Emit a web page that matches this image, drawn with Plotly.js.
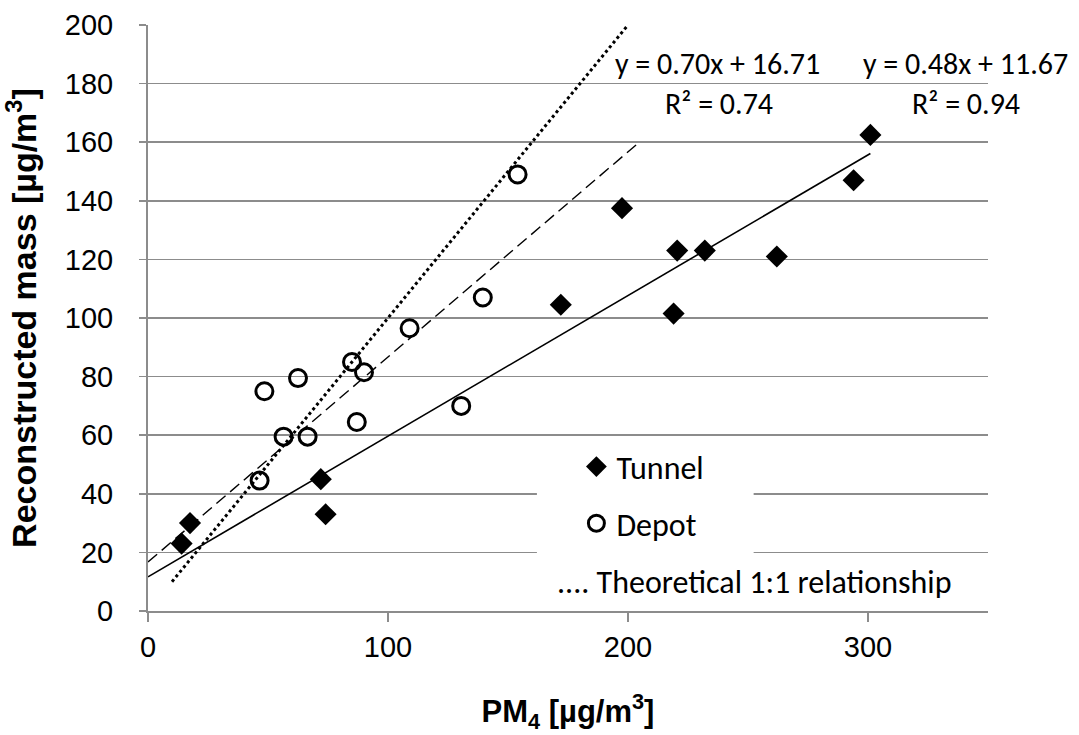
<!DOCTYPE html>
<html>
<head>
<meta charset="utf-8">
<script src="https://cdn.plot.ly/plotly-3.0.1.min.js"></script>
<style>html,body{margin:0;padding:0;background:#fff}#chart{width:1079px;height:735px}</style>
</head>
<body>
<div id="chart"></div>
<script>
// ---- data ----
const tunnelX = [14, 17.5, 72, 74, 172, 197.5, 219, 220.5, 232, 262, 294, 301];
const tunnelY = [23, 30, 45, 33, 104.5, 137.5, 101.5, 123, 123, 121, 147, 162.5];
const depotX = [46.5, 48.5, 56.5, 62.5, 66.5, 85, 87, 90, 109, 130.5, 139.5, 154];
const depotY = [44.5, 75, 59.5, 79.5, 59.5, 85, 64.5, 81.5, 96.5, 70, 107, 149];
// fitted trend lines as printed on the chart
const tunnelFit = [0.48, 11.67];     // slope, intercept
const depotFit = [0.70, 16.71];
const tunnelFitRange = [0, 301];
const depotFitRange = [0, 204];
const oneToOneRange = [10, 200];
const eqTunnel = 'y = 0.48x + 11.67';
const r2Tunnel = 'R² = 0.94';
const eqDepot = 'y = 0.70x + 16.71';
const r2Depot = 'R² = 0.74';
const xTicks = [0, 100, 200, 300];
const yTicks = [0, 20, 40, 60, 80, 100, 120, 140, 160, 180, 200];

const lineY = (f, xs) => xs.map(x => f[0] * x + f[1]);
const calib = 'Carlito, Lato, sans-serif';
const arial = 'Liberation Sans, Arial, sans-serif';
const gray = '#8c8c8c';

const traces = [
  {x: tunnelFitRange, y: lineY(tunnelFit, tunnelFitRange), mode: 'lines', showlegend: false, hoverinfo: 'skip',
   line: {color: '#000', width: 1.6}},
  {x: depotFitRange, y: lineY(depotFit, depotFitRange), mode: 'lines', showlegend: false, hoverinfo: 'skip',
   line: {color: '#000', width: 1.4, dash: '12px,6px'}},
  {x: oneToOneRange, y: oneToOneRange, mode: 'lines', showlegend: false, hoverinfo: 'skip',
   line: {color: '#000', width: 3, dash: 'dot'}},
  {x: tunnelX, y: tunnelY, mode: 'markers', name: 'Tunnel', legendgroup: 'a',
   marker: {symbol: 'diamond', size: 17, color: '#000', line: {width: 0}}},
  {x: depotX, y: depotY, mode: 'markers', name: 'Depot', legendgroup: 'b',
   marker: {symbol: 'circle-open', size: 17, color: '#000', line: {width: 3, color: '#000'}}}
];

const layout = {
  width: 1079, height: 735,
  margin: {l: 148, r: 91, t: 25, b: 124},
  paper_bgcolor: '#fff', plot_bgcolor: '#fff',
  showlegend: true,
  legend: {x: 0.51, y: 0.293, xanchor: 'left', yanchor: 'top', bgcolor: 'rgba(0,0,0,0)',
    font: {family: calib, size: 32, color: '#000'}, tracegroupgap: 12, traceorder: 'grouped',
    itemsizing: 'trace'},
  xaxis: {range: [0, 350], tickvals: xTicks, showgrid: false, zeroline: false,
    showline: true, linecolor: gray, linewidth: 2, ticks: 'outside', ticklen: 9, tickwidth: 1.5, tickcolor: gray,
    tickfont: {family: arial, size: 29, color: '#000'}, ticklabelstandoff: 0,
    title: {text: '<b>PM<sub>4</sub> [µg/m<sup>3</sup>]</b>', font: {family: arial, size: 31, color: '#000'}, standoff: 39}},
  yaxis: {range: [0, 200], tickvals: yTicks, showgrid: true, gridcolor: gray, gridwidth: 1.6, zeroline: false,
    showline: true, linecolor: gray, linewidth: 2, ticks: 'outside', ticklen: 7, tickwidth: 1.5, tickcolor: gray,
    tickfont: {family: arial, size: 29, color: '#000'}, ticklabelstandoff: 20,
    title: {text: '<b>Reconstructed mass [µg/m<sup>3</sup>]</b>', font: {family: arial, size: 34, color: '#000'}, standoff: 18}},
  shapes: [
    {type: 'rect', xref: 'paper', yref: 'paper', x0: 0.463, x1: 0.721, y0: 0.087, y1: 0.283,
     fillcolor: '#fff', line: {width: 0}, layer: 'above'}
  ],
  annotations: [
    {xref: 'x', yref: 'y', x: 237.3, y: 186.7, text: eqDepot, showarrow: false, font: {family: calib, size: 30, color: '#000'}},
    {xref: 'x', yref: 'y', x: 238, y: 173.3, text: r2Depot, showarrow: false, font: {family: calib, size: 30, color: '#000'}},
    {xref: 'x', yref: 'y', x: 340.8, y: 186.7, text: eqTunnel, showarrow: false, font: {family: calib, size: 30, color: '#000'}},
    {xref: 'x', yref: 'y', x: 341, y: 173.3, text: r2Tunnel, showarrow: false, font: {family: calib, size: 30, color: '#000'}},
    {xref: 'paper', yref: 'paper', x: (555 - 148) / 840, y: (611 - 582) / 586, xanchor: 'left', yanchor: 'middle',
     text: '.... Theoretical 1:1 relationship', showarrow: false, font: {family: calib, size: 32, color: '#000'}}
  ]
};

Plotly.newPlot('chart', traces, layout, {displayModeBar: false, staticPlot: true});
</script>
</body>
</html>
